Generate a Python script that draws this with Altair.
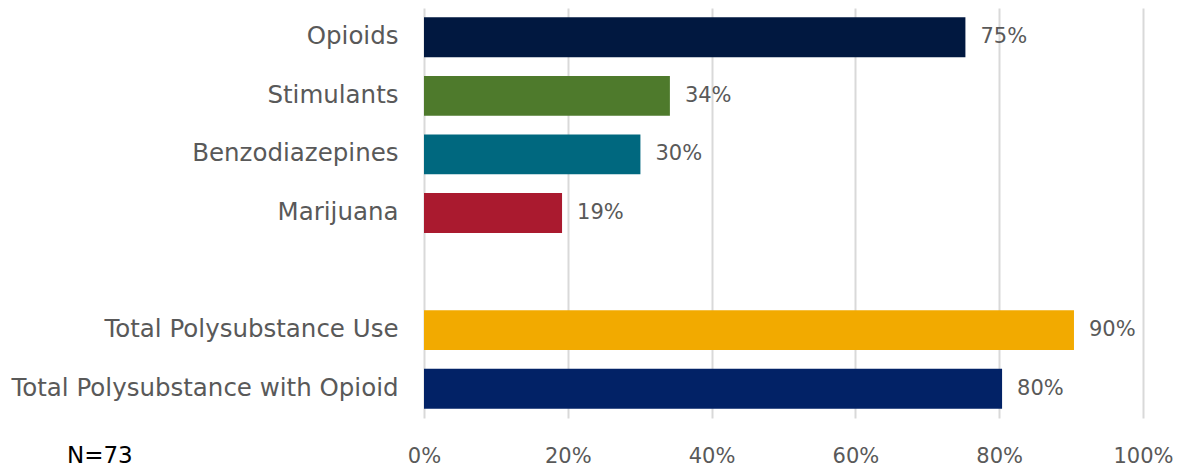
import altair as alt
import pandas as pd

categories = ["Opioids", "Stimulants", "Benzodiazepines", "Marijuana",
              "Total Polysubstance Use", "Total Polysubstance with Opioid"]
values = [75.3, 34.2, 30.1, 19.2, 90.4, 80.4]
labels = ["75%", "34%", "30%", "19%", "90%", "80%"]
colors = ["#011840", "#4E7A2C", "#00687F", "#AA1A2F", "#F2AA00", "#022266"]
domain = ["Opioids", "Stimulants", "Benzodiazepines", "Marijuana", " ",
          "Total Polysubstance Use", "Total Polysubstance with Opioid"]
x_ticks = [0, 20, 40, 60, 80, 100]
note = "N=73"

df = pd.DataFrame({"cat": categories, "val": values, "lab": labels, "col": colors})

FONT = "DejaVu Sans"
GRAY = "#595959"

y_enc = alt.Y("cat:N", sort=domain,
              scale=alt.Scale(domain=domain, paddingInner=0.32, paddingOuter=0.16),
              axis=alt.Axis(title=None, ticks=False, domain=False, labelFontSize=24.5,
                            labelFont=FONT, labelColor=GRAY, labelPadding=26,
                            labelLimit=500))
x_enc = alt.X("val:Q", scale=alt.Scale(domain=[0, 100], nice=False),
              axis=alt.Axis(title=None, values=x_ticks, labelExpr="datum.value + '%'",
                            ticks=False, domain=False, grid=True, gridColor="#D9D9D9",
                            gridWidth=2, labelFontSize=21, labelFont=FONT,
                            labelColor=GRAY, labelPadding=27, labelFlush=False))

bars = alt.Chart(df).mark_bar().encode(
    x=x_enc, y=y_enc, color=alt.Color("col:N", scale=None)
)
text = alt.Chart(df).mark_text(align="left", baseline="middle", dx=15, fontSize=21,
                               font=FONT, color=GRAY).encode(
    x="val:Q", y=alt.Y("cat:N", sort=domain), text="lab:N"
)
n_text = alt.Chart(pd.DataFrame({"t": [note]})).mark_text(
    align="left", baseline="middle", fontSize=23, font=FONT, color="#000000"
).encode(x=alt.value(-357), y=alt.value(448), text="t:N")

chart = alt.layer(bars, text, n_text).properties(
    width=719, height=410,
    background="white",
    autosize=alt.AutoSizeParams(type="none"),
    padding={"left": 424, "top": 8, "right": 36, "bottom": 51},
).configure_view(stroke=None)

chart.save("out.html", embed_options={"renderer": "svg", "actions": False})
